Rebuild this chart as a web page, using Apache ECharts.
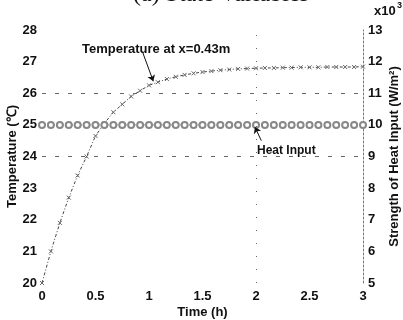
<!DOCTYPE html>
<html>
<head>
<meta charset="utf-8">
<script src="https://cdn.jsdelivr.net/npm/echarts@6/dist/echarts.min.js"></script>
<style>
  html, body { margin: 0; padding: 0; background: #fff; }
  #chart { width: 403px; height: 320px; }
</style>
</head>
<body>
<div id="chart"></div>
<script>
// time points (h), every 5 minutes
const times = [0, 0.083, 0.167, 0.25, 0.333, 0.417, 0.5, 0.583, 0.667, 0.75, 0.833, 0.917,
  1, 1.083, 1.167, 1.25, 1.333, 1.417, 1.5, 1.583, 1.667, 1.75, 1.833, 1.917,
  2, 2.083, 2.167, 2.25, 2.333, 2.417, 2.5, 2.583, 2.667, 2.75, 2.833, 2.917, 3]
// temperature at x=0.43m (C)
const temperature = [20.0, 21.0, 21.9, 22.7, 23.4, 24.0, 24.65, 25.05, 25.4, 25.65, 25.9, 26.08,
  26.25, 26.35, 26.45, 26.52, 26.58, 26.63, 26.67, 26.7, 26.73, 26.75, 26.77, 26.78,
  26.79, 26.8, 26.8, 26.81, 26.81, 26.82, 26.82, 26.82, 26.83, 26.83, 26.83, 26.83, 26.84]
// heat input (x10^3 W/m2)
const heatInput = [10, 10, 10, 10, 10, 10, 10, 10, 10, 10, 10, 10,
  10, 10, 10, 10, 10, 10, 10, 10, 10, 10, 10, 10,
  10, 10, 10, 10, 10, 10, 10, 10, 10, 10, 10, 10, 10]
const xTicks = [0, 0.5, 1, 1.5, 2, 2.5, 3]

const font = 'Liberation Sans'
const txt = { fontFamily: font, fontSize: 13, fontWeight: 'bold', color: '#111' }

let chartDom = document.getElementById('chart')
let chart = echarts.init(chartDom)

const crossPath = 'path://M0,0L10,10M10,0L0,10'

let options = {
  animation: false,
  backgroundColor: '#fff',
  grid: { left: 42, right: 40, top: 30, bottom: 37, containLabel: false, outerBoundsMode: 'none' },
  xAxis: {
    type: 'value', min: 0, max: 3, interval: 0.5,
    name: 'Time (h)', nameLocation: 'middle', nameGap: 23, nameMoveOverlap: false,
    nameTextStyle: txt,
    axisLabel: Object.assign({ margin: 7, formatter: v => xTicks.includes(v) ? String(v) : '' }, txt),
    axisLine: { show: false }, axisTick: { show: false }, splitLine: { show: false }
  },
  yAxis: [{
    type: 'value', min: 20, max: 28, interval: 1,
    name: 'Temperature (℃)', nameLocation: 'middle', nameGap: 23, nameMoveOverlap: false,
    nameTextStyle: txt,
    axisLabel: Object.assign({ margin: 5 }, txt),
    axisLine: { show: false }, axisTick: { show: false }, splitLine: { show: false }
  }, {
    type: 'value', min: 5, max: 13, interval: 1, position: 'right',
    name: 'Strength of Heat Input (W/m²)', nameLocation: 'middle', nameGap: 25, nameMoveOverlap: false,
    nameRotate: 90,
    nameTextStyle: txt,
    axisLabel: Object.assign({ margin: 5 }, txt),
    axisLine: { show: true, lineStyle: { color: '#777', type: [2, 2], width: 1 } },
    axisTick: { show: false }, splitLine: { show: false }
  }],
  graphic: [
    { type: 'text', left: 133, top: -17, style: { text: '(a) State Variables', font: '24px "Liberation Serif"', fill: '#111' } },
    { type: 'text', left: 374, top: 5, style: { text: 'x10', font: 'bold 13px ' + font, fill: '#111' } },
    { type: 'text', left: 397, top: 1, style: { text: '3', font: 'bold 9px ' + font, fill: '#111' } },
    { type: 'text', left: 82, top: 43, style: { text: 'Temperature at x=0.43m', font: 'bold 13px ' + font, fill: '#111' } },
    { type: 'text', left: 257, top: 145, style: { text: 'Heat Input', font: 'bold 12px ' + font, fill: '#111' } }
  ],
  series: [{
    name: 'Temperature',
    type: 'line',
    yAxisIndex: 0,
    data: times.map((t, i) => [t, temperature[i]]),
    symbol: crossPath, symbolSize: 4, showSymbol: true,
    lineStyle: { color: '#444', width: 1, type: [3, 2, 1, 2] },
    itemStyle: { color: '#666', borderColor: '#666', borderWidth: 1 },
    markLine: {
      silent: true, symbol: ['none', 'none'], label: { show: false },
      lineStyle: { color: '#666', type: [4, 9], width: 1 },
      data: [
        [{ coord: [0, 26] }, { coord: [3, 26] }],
        [{ coord: [0, 24] }, { coord: [3, 24] }],
        [{ coord: [2, 20] }, { coord: [2, 28], lineStyle: { type: [1, 12] } }],
        [{ coord: [0.94, 27.3], lineStyle: { color: '#111', type: 'solid' }, symbol: 'none' },
         { coord: [1.04, 26.38], symbol: 'arrow', symbolSize: 6 }]
      ]
    }
  }, {
    name: 'Heat Input',
    type: 'line',
    yAxisIndex: 1,
    data: times.map((t, i) => [t, heatInput[i]]),
    symbol: 'emptyCircle', symbolSize: 6, showSymbol: true,
    lineStyle: { color: '#888', width: 1, type: [1, 2] },
    itemStyle: { color: '#888', borderColor: '#888', borderWidth: 1 },
    markLine: {
      silent: true, label: { show: false },
      lineStyle: { color: '#111', type: 'solid', width: 1 },
      data: [
        [{ coord: [2.05, 9.5], symbol: 'none' }, { coord: [1.99, 9.93], symbol: 'arrow', symbolSize: 6 }]
      ]
    }
  }]
}

chart.setOption(options, true)
</script>
</body>
</html>
